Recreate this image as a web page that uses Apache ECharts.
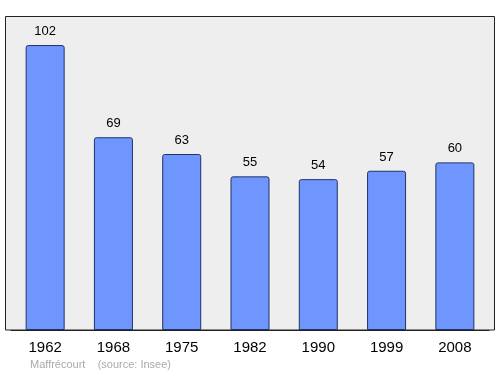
<!DOCTYPE html>
<html><head><meta charset="utf-8">
<script src="https://cdn.jsdelivr.net/npm/echarts@6/dist/echarts.min.js"></script>
<style>html,body{margin:0;padding:0;background:#fff}#c{width:500px;height:374px}</style>
</head><body><div id="c"></div>
<script>
var categories = ['1962','1968','1975','1982','1990','1999','2008'];
var population = [102, 69, 63, 55, 54, 57, 60];
var footer = 'Maffrécourt    (source: Insee)';

var chart = echarts.init(document.getElementById('c'), null, {renderer:'canvas'});
chart.setOption({
  animation:false,
  backgroundColor:'#fff',
  graphic:[
    {type:'rect', shape:{x:5.5,y:16.5,width:489,height:313.5}, style:{fill:'#eeeeee',stroke:'#222',lineWidth:1}, z:-10, silent:true},
    {type:'text', left:30, top:359, style:{text:footer, fill:'#aaaaaa', font:'11px "Liberation Sans", Arial, sans-serif'}}
  ],
  grid:{left:11, right:11, top:16, bottom:44, containLabel:false},
  xAxis:{type:'category', data:categories, boundaryGap:true,
    axisLine:{show:true, lineStyle:{color:'#222', width:1}}, axisTick:{show:false},
    axisLabel:{color:'#000', fontSize:15, margin:10, fontFamily:'Liberation Sans, Arial, sans-serif'}},
  yAxis:{type:'value', min:0, max:112.4, show:false, splitLine:{show:false}},
  series:[{type:'bar', data:population, barWidth:39,
    itemStyle:{color:'#6f96ff', borderColor:'#1f3366', borderWidth:1, borderRadius:[2,2,0,0]},
    label:{show:true, position:'top', distance:7, color:'#000', fontSize:13, fontFamily:'Liberation Sans, Arial, sans-serif'}
  }]
});
</script></body></html>
